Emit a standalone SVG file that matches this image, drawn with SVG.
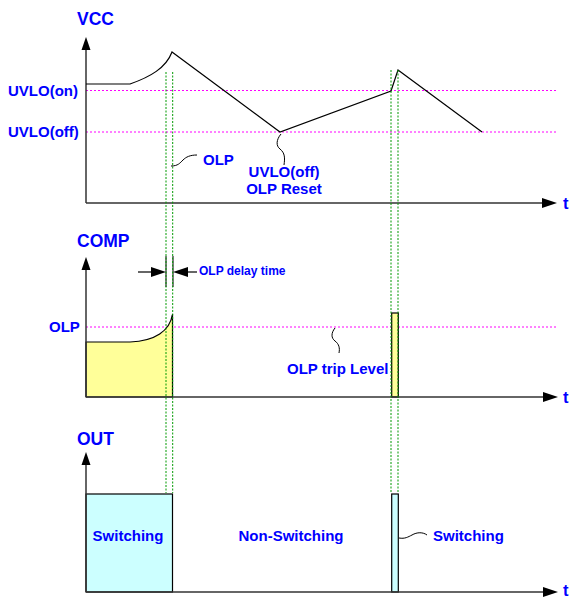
<svg xmlns="http://www.w3.org/2000/svg" width="571" height="598" viewBox="0 0 571 598">
<style>
text{font-family:"Liberation Sans",Arial,sans-serif;font-weight:bold;fill:#0000FF}
.title{font-size:17.5px}
.tt{font-size:16.5px}
.lbl{font-size:15px}
.small{font-size:12px}
.axis{stroke:#333;stroke-width:1.5;fill:none}
.head{fill:#000}
.mag{stroke:#FF00FF;stroke-width:1;stroke-dasharray:2,2;fill:none}
.grn{stroke:#009900;stroke-width:1;stroke-dasharray:2,1.5;fill:none}
.sig{stroke:#000;stroke-width:1.2;fill:none}
.sq{stroke:#000;stroke-width:1;fill:none}
</style>
<rect width="571" height="598" fill="#fff"/>
<g id="vcc-panel">
<line class="mag" x1="86" y1="90.5" x2="557" y2="90.5"/>
<line class="mag" x1="86" y1="132" x2="557" y2="132"/>
<line class="axis" x1="86" y1="48" x2="86" y2="203"/>
<polygon class="head" points="86,37 81.5,50 90.5,50"/>
<line class="axis" x1="86" y1="203" x2="545" y2="203"/>
<polygon class="head" points="557,203 542,198 542,208"/>
<path class="sig" d="M86,84 L130,84 C150,77 166,68 172,52 L280,132 L391,91 L398,70 L482,132"/>
<text class="title" x="77" y="25">VCC</text>
<text class="lbl" x="8" y="96">UVLO(on)</text>
<text class="lbl" x="8" y="137">UVLO(off)</text>
<text class="lbl" x="203" y="165">OLP</text>
<text class="lbl" x="284" y="177" text-anchor="middle">UVLO(off)</text>
<text class="lbl" x="284" y="194" text-anchor="middle">OLP Reset</text>
<text class="tt" x="563" y="208.5">t</text>
</g>
<g id="comp-panel">
<line class="mag" x1="86" y1="327" x2="558" y2="327"/>
<path d="M86,342 L130,342 C155,341 170,331 172.5,314 L172.5,397 L86,397 Z" fill="#FFFF99" stroke="#000" stroke-width="1.2"/>
<rect x="391.7" y="313" width="6.6" height="84" fill="#FFFF99" stroke="#000" stroke-width="1.2"/>
<line class="axis" x1="86" y1="268" x2="86" y2="397"/>
<polygon class="head" points="86,257 81.5,270 90.5,270"/>
<line class="axis" x1="86" y1="397" x2="546" y2="397"/>
<polygon class="head" points="558,397 543,392 543,402"/>
<text class="title" x="77" y="247">COMP</text>
<text class="lbl" x="49" y="332">OLP</text>
<text class="lbl" x="287" y="374">OLP trip Level</text>
<text class="tt" x="563" y="402.5">t</text>
</g>
<g id="delay-marker">
<line stroke="#000" stroke-width="1" x1="166" y1="256" x2="166" y2="287"/>
<line stroke="#000" stroke-width="1" x1="173" y1="256" x2="173" y2="287"/>
<line stroke="#000" stroke-width="1.2" x1="138" y1="272" x2="152" y2="272"/>
<polygon class="head" points="166,272 151,267 151,277"/>
<line stroke="#000" stroke-width="1.2" x1="187" y1="272" x2="197" y2="272"/>
<polygon class="head" points="173,272 188,267 188,277"/>
<text class="small" x="199" y="275">OLP delay time</text>
</g>
<g id="out-panel">
<rect x="86" y="494" width="86.5" height="98" fill="#CCFFFF" stroke="#000" stroke-width="1.2"/>
<rect x="391.7" y="494" width="6.6" height="98" fill="#CCFFFF" stroke="#000" stroke-width="1.2"/>
<line class="axis" x1="86" y1="463" x2="86" y2="592"/>
<polygon class="head" points="86,452 81.5,465 90.5,465"/>
<line class="axis" x1="86" y1="592" x2="546" y2="592"/>
<polygon class="head" points="558,592 543,587 543,597"/>
<text class="title" x="77" y="445">OUT</text>
<text class="lbl" x="128" y="541" text-anchor="middle">Switching</text>
<text class="lbl" x="291" y="541" text-anchor="middle">Non-Switching</text>
<text class="lbl" x="433" y="541">Switching</text>
<text class="tt" x="563" y="595.5">t</text>
</g>
<g id="connectors">
<line class="grn" x1="166" y1="72" x2="166" y2="493"/>
<line class="grn" x1="172.7" y1="72" x2="172.7" y2="493"/>
<line class="grn" x1="391" y1="70" x2="391" y2="493"/>
<line class="grn" x1="398" y1="70" x2="398" y2="493"/>
<path class="sq" d="M171,166 C178,166 180,163 183,160 C186,157 190,155 197,155"/>
<path class="sq" d="M281,134 C276,140 276,146 280,149 C285,153 285,158 284,165"/>
<path class="sq" d="M335,328 C331,333 331,338 335,341 C339,344 340,348 339,353"/>
<path class="sq" d="M399,538 C405,539 408,537 412,535 C417,532 423,532 427,535"/>
</g>
</svg>
